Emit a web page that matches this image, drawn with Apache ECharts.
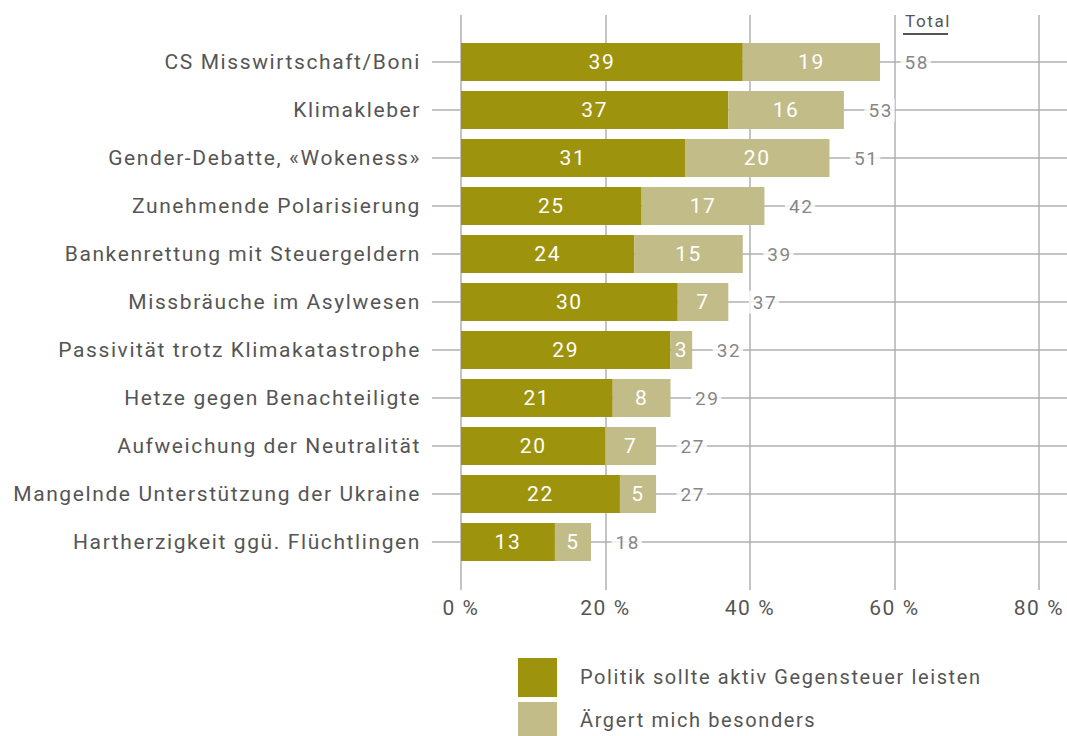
<!DOCTYPE html>
<html><head><meta charset="utf-8">
<script src="https://cdn.jsdelivr.net/npm/echarts@6/dist/echarts.min.js"></script>
<style>html,body{margin:0;padding:0;background:#fff}#c{width:1067px;height:736px;letter-spacing:1.6px}</style>
</head><body><div id="c"></div>
<script>
const categories = [
  'CS Misswirtschaft/Boni',
  'Klimakleber',
  'Gender-Debatte, «Wokeness»',
  'Zunehmende Polarisierung',
  'Bankenrettung mit Steuergeldern',
  'Missbräuche im Asylwesen',
  'Passivität trotz Klimakatastrophe',
  'Hetze gegen Benachteiligte',
  'Aufweichung der Neutralität',
  'Mangelnde Unterstützung der Ukraine',
  'Hartherzigkeit ggü. Flüchtlingen'
];
const aktiv = [39, 37, 31, 25, 24, 30, 29, 21, 20, 22, 13];
const besonders = [19, 16, 20, 17, 15, 7, 3, 8, 7, 5, 5];
const xTickMin = 0, xTickMax = 80, xTickStep = 20;
const seriesNames = ['Politik sollte aktiv Gegensteuer leisten', 'Ärgert mich besonders'];
const totalHeader = 'Total';

const totals = aktiv.map((v, i) => v + besonders[i]);
const FONT = 'Roboto';
const C1 = '#9e930d', C2 = '#c2bc89', GRID = '#b0b0b0', TXT = '#555';
const colors = [C1, C2];

const chart = echarts.init(document.getElementById('c'), null, {renderer: 'svg'});
chart.setOption({
  backgroundColor: '#fff',
  textStyle: {fontFamily: FONT},
  animation: false,
  grid: [
    {left: 432, top: 62, width: 635, height: 480},
    {left: 461, top: 15, width: 578, height: 575},
    {left: 461, top: 38, width: 578, height: 528}
  ],
  xAxis: [
    {gridIndex: 0, type: 'value', min: 0, max: 1, show: false},
    {gridIndex: 1, type: 'value', min: xTickMin, max: xTickMax, interval: xTickStep,
     axisLine: {show: false}, axisTick: {show: false},
     splitLine: {show: true, lineStyle: {color: GRID, width: 1.5}},
     axisLabel: {formatter: '{value} %', color: TXT, fontSize: 21, margin: 7, fontFamily: FONT}},
    {gridIndex: 2, type: 'value', min: xTickMin, max: xTickMax, show: false}
  ],
  yAxis: [
    {gridIndex: 0, type: 'value', min: 0, max: categories.length - 1, interval: 1, inverse: true,
     axisLine: {show: false}, axisTick: {show: false}, axisLabel: {show: false},
     splitLine: {show: true, lineStyle: {color: GRID, width: 1.5}}},
    {gridIndex: 1, type: 'value', show: false, splitLine: {show: false}},
    {gridIndex: 2, type: 'category', data: categories, inverse: true,
     axisLine: {show: false}, axisTick: {show: false}, splitLine: {show: false},
     axisLabel: {color: TXT, fontSize: 21, margin: 40, fontFamily: FONT}}
  ],
  series: [
    {name: seriesNames[0], type: 'bar', stack: 's', xAxisIndex: 2, yAxisIndex: 2, data: aktiv,
     barWidth: 38, itemStyle: {color: C1},
     label: {show: true, position: 'inside', color: '#fff', fontSize: 21, fontFamily: FONT}},
    {name: seriesNames[1], type: 'bar', stack: 's', xAxisIndex: 2, yAxisIndex: 2, data: besonders,
     barWidth: 38, itemStyle: {color: C2},
     label: {show: true, position: 'inside', color: '#fff', fontSize: 21, fontFamily: FONT}},
    {name: 'total', type: 'scatter', xAxisIndex: 2, yAxisIndex: 2,
     data: totals.map((t, i) => [t, categories[i]]),
     symbolSize: 1, itemStyle: {color: 'rgba(0,0,0,0)'}, z: 5, silent: true,
     label: {show: true, position: 'right', distance: 20, color: '#666', fontSize: 19,
             backgroundColor: '#fff', padding: [2, 5, 2, 4], fontFamily: FONT,
             formatter: p => p.value[0]}}
  ],
  graphic: [
    {type: 'text', left: 905, top: 12, style: {text: totalHeader, fontSize: 17, fill: TXT, fontFamily: FONT}},
    {type: 'line', shape: {x1: 903, y1: 34, x2: 948, y2: 34}, style: {stroke: TXT, lineWidth: 2}}
  ].concat(seriesNames.flatMap((n, i) => [
    {type: 'rect', shape: {x: 518, y: 658 + i * 44, width: 39, height: 39}, style: {fill: colors[i]}},
    {type: 'text', x: 580, y: 677 + i * 43,
     style: {text: n, fontSize: 20, fill: TXT, fontFamily: FONT, textVerticalAlign: 'middle'}}
  ]))
});
</script></body></html>
